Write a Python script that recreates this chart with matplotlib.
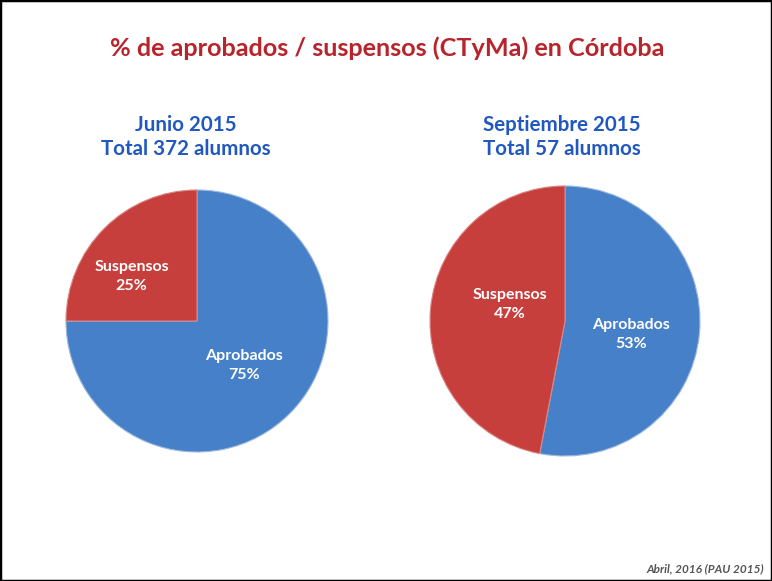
import matplotlib.pyplot as plt
from matplotlib.patches import Rectangle

# Data
categories = ['Aprobados', 'Suspensos']
junio_pct = [75, 25]
sept_pct = [53, 47]
subtitles = ['Junio 2015\nTotal 372 alumnos', 'Septiembre 2015\nTotal 57 alumnos']

colors = ['#4680C8', '#C63F3C']
W, H = 772, 581

plt.rcParams['font.family'] = ['Lato', 'DejaVu Sans']

fig = plt.figure(figsize=(W / 100, H / 100), dpi=100)
fig.patch.set_facecolor('white')
fig.patches.append(Rectangle((0, 0), 1, 1, transform=fig.transFigure,
                             fill=False, edgecolor='black', linewidth=2.5))

fig.text(387 / W, 1 - 48 / H, '% de aprobados / suspensos (CTyMa) en Córdoba',
         ha='center', va='center', color='#B8242B', fontsize=18.2, fontweight='bold')


def draw_pie(cx, cy, r, values, label_pos):
    ax = fig.add_axes([(cx - r) / W, 1 - (cy + r) / H, 2 * r / W, 2 * r / H])
    wedges, _ = ax.pie(values, colors=colors, startangle=90, counterclock=False,
                       wedgeprops=dict(edgecolor='#9DB8DD', linewidth=0.8))
    wedges[1].set_edgecolor('#D98683')
    ax.set_xlim(-1, 1)
    ax.set_ylim(-1, 1)
    ax.set_aspect('auto')
    ax.axis('off')
    for name, v, (x, y) in zip(categories, values, label_pos):
        ax.text(x, y, f'{name}\n{v}%', ha='center', va='center', color='white',
                fontsize=11.5, fontweight='bold', linespacing=1.45)
    return ax


draw_pie(197, 321, 131, junio_pct, [(0.36, -0.34), (-0.50, 0.34)])
draw_pie(565, 321, 135, sept_pct, [(0.49, -0.10), (-0.41, 0.12)])

for x, txt in zip([186, 562], subtitles):
    fig.text(x / W, 1 - 137 / H, txt, ha='center', va='center', color='#2058C0',
             fontsize=14.8, fontweight='bold', linespacing=1.3)

fig.text(764 / W, 1 - 569 / H, 'Abril, 2016 (PAU 2015)', ha='right', va='center',
         color='#555555', fontsize=8.5, fontweight='bold', style='italic')

fig.savefig('out.png', dpi=100)
